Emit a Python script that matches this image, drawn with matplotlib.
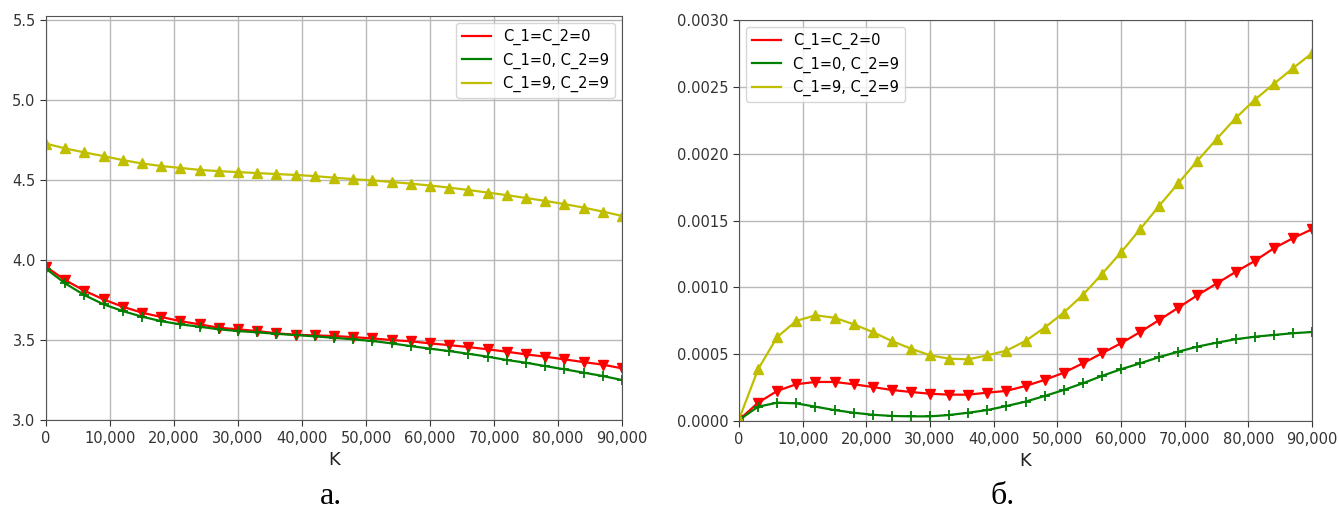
import matplotlib
matplotlib.use("Agg")
import matplotlib.pyplot as plt
from matplotlib.lines import Line2D
from matplotlib.ticker import FuncFormatter, FormatStrFormatter

K = [i * 3000 for i in range(31)]

labels = ["C_1=C_2=0", "C_1=0, C_2=9", "C_1=9, C_2=9"]

# panel a
a_red = [3.960, 3.877, 3.810, 3.756, 3.710, 3.673, 3.646, 3.620, 3.600, 3.579,
         3.569, 3.558, 3.544, 3.535, 3.531, 3.527, 3.520, 3.512, 3.502, 3.494,
         3.481, 3.470, 3.458, 3.444, 3.429, 3.412, 3.398, 3.381, 3.364, 3.348, 3.325]
a_green = [3.948, 3.856, 3.783, 3.725, 3.683, 3.648, 3.620, 3.600, 3.585, 3.569,
           3.558, 3.550, 3.541, 3.533, 3.525, 3.516, 3.506, 3.496, 3.481, 3.464,
           3.448, 3.433, 3.416, 3.398, 3.377, 3.360, 3.339, 3.319, 3.298, 3.277, 3.252]
a_yellow = [4.730, 4.700, 4.675, 4.652, 4.627, 4.606, 4.590, 4.578, 4.566, 4.558,
            4.552, 4.546, 4.540, 4.534, 4.527, 4.517, 4.508, 4.500, 4.490, 4.480,
            4.468, 4.455, 4.440, 4.424, 4.408, 4.390, 4.372, 4.352, 4.330, 4.305, 4.278]

# panel b
b_red = [0.000010, 0.000139, 0.000227, 0.000277, 0.000294, 0.000294, 0.000277, 0.000256,
         0.000234, 0.000219, 0.000206, 0.000199, 0.000199, 0.000214, 0.000227, 0.000264,
         0.000309, 0.000363, 0.000433, 0.000508, 0.000583, 0.000667, 0.000757, 0.000849,
         0.000942, 0.001029, 0.001116, 0.001198, 0.001293, 0.001368, 0.001435]
b_green = [0.000010, 0.000109, 0.000139, 0.000134, 0.000109, 0.000084, 0.000064, 0.000049,
           0.000040, 0.000037, 0.000037, 0.000047, 0.000064, 0.000084, 0.000114, 0.000147,
           0.000189, 0.000234, 0.000284, 0.000339, 0.000389, 0.000433, 0.000480, 0.000520,
           0.000558, 0.000587, 0.000613, 0.000632, 0.000645, 0.000658, 0.000667]
b_yellow = [0.000015, 0.000389, 0.000630, 0.000750, 0.000792, 0.000774, 0.000725, 0.000667,
            0.000600, 0.000543, 0.000493, 0.000468, 0.000463, 0.000493, 0.000528, 0.000600,
            0.000700, 0.000812, 0.000944, 0.001100, 0.001262, 0.001435, 0.001610, 0.001779,
            0.001946, 0.002108, 0.002265, 0.002402, 0.002521, 0.002638, 0.002750]

x_ticks = [0, 10000, 20000, 30000, 40000, 50000, 60000, 70000, 80000, 90000]
a_yticks = [3.0, 3.5, 4.0, 4.5, 5.0, 5.5]
b_yticks = [0.0, 0.0005, 0.0010, 0.0015, 0.0020, 0.0025, 0.0030]
captions = ["а.", "б."]

W, H = 1339, 512
fig = plt.figure(figsize=(W / 100, H / 100), dpi=100)

def px_axes(x0, x1, ytop, ybot):
    return fig.add_axes([x0 / W, (H - ybot) / H, (x1 - x0) / W, (ybot - ytop) / H])

ax1 = px_axes(46, 622, 15.7, 420.3)
ax2 = px_axes(739, 1312, 19.8, 421.3)

tick_col = "#333333"
styles = [("r", "v"), ("g", "+"), ("y", "^")]

def style_axes(ax):
    ax.grid(True, color="#b8b8b8", linewidth=1.0)
    ax.set_axisbelow(True)
    ax.set_xlim(0, 90000)
    ax.set_xticks(x_ticks)
    ax.xaxis.set_major_formatter(FuncFormatter(lambda v, p: f"{v:,.0f}"))
    ax.tick_params(labelsize=10.5, colors=tick_col, length=4)
    for s in ax.spines.values():
        s.set_color("#555555")
    ax.set_xlabel("K", fontsize=13, color="#222222", labelpad=4)

for ax, series in [(ax1, [a_red, a_green, a_yellow]), (ax2, [b_red, b_green, b_yellow])]:
    for (c, m), ys, lab in zip(styles, series, labels):
        ax.plot(K, ys, color=c, marker=m, markersize=7,
                markeredgewidth=1.3 if m == "+" else 1.0, linewidth=1.6)
    style_axes(ax)

handles = [Line2D([], [], color=c, linewidth=1.6) for c, _ in styles]

ax1.set_ylim(3.0, 5.53)
ax1.set_yticks(a_yticks)
ax1.yaxis.set_major_formatter(FormatStrFormatter("%.1f"))
ax2.set_ylim(0, 0.003)
ax2.set_yticks(b_yticks)
ax2.yaxis.set_major_formatter(FormatStrFormatter("%.4f"))

ax1.legend(handles, labels, loc="upper right", fontsize=10.5, handlelength=2.0, borderaxespad=0.5)
ax2.legend(handles, labels, loc="upper left", fontsize=10.5, handlelength=2.0, borderaxespad=0.5)

fig.text(331 / W, (H - 504) / H, captions[0], fontsize=23, family="Liberation Serif",
         ha="center", va="baseline")
fig.text(1003 / W, (H - 504) / H, captions[1], fontsize=23, family="Liberation Serif",
         ha="center", va="baseline")

fig.savefig("out.png", dpi=100)
